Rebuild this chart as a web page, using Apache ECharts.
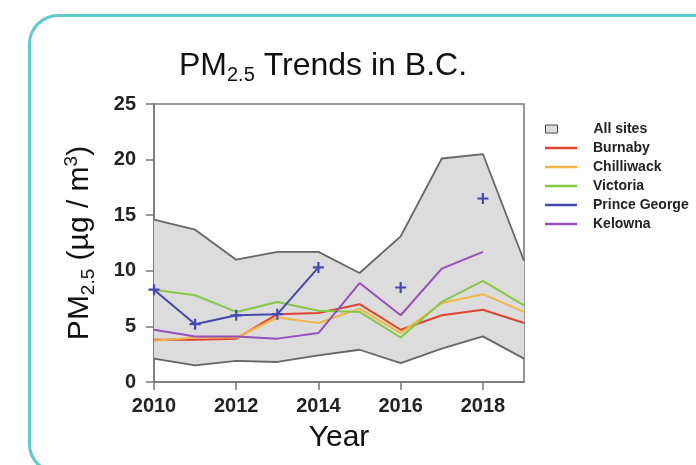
<!DOCTYPE html>
<html>
<head>
<meta charset="utf-8">
<script src="https://cdn.jsdelivr.net/npm/echarts@6/dist/echarts.min.js"></script>
<style>
    body {
        margin: 0;
        background: #fff;
    }
    .frame {
        position: absolute;
        left: 28px;
        top: 14px;
        width: 720px;
        height: 460px;
        box-sizing: border-box;
        border: 3px solid #5ecbcb;
        border-radius: 30px;
    }
    #chartTrend {
        position: absolute;
        left: 0;
        top: 0;
        width: 696px;
        height: 465px;
    }
</style>
</head>
<body>
<div class="frame"></div>
<div id="chartTrend"></div>
<script>
// values (µg/m3)
const years = ["2010", "2011", "2012", "2013", "2014", "2015", "2016", "2017", "2018", "2019"];
const allSitesMin = [2.1, 1.5, 1.9, 1.8, 2.4, 2.9, 1.7, 3.0, 4.1, 2.1];
const allSitesMax = [14.6, 13.7, 11.0, 11.7, 11.7, 9.8, 13.1, 20.1, 20.5, 10.9];
const burnaby = [3.8, 3.8, 3.9, 6.1, 6.2, 7.0, 4.7, 6.0, 6.5, 5.3];
const chilliwack = [3.7, 4.0, 4.0, 5.8, 5.3, 6.6, 4.4, 7.1, 7.9, 6.3];
const victoria = [8.3, 7.8, 6.3, 7.2, 6.4, 6.3, 4.0, 7.2, 9.1, 6.9];
const princeGeorge = [8.3, 5.2, 6.0, 6.1, 10.3, null, 8.5, null, 16.5, null];
const kelowna = [4.7, 4.1, 4.1, 3.9, 4.4, 8.9, 6.0, 10.2, 11.7, null];

const font = "'Liberation Sans', Arial, sans-serif";
const colors = {
    burnaby: "#e0442f",
    chilliwack: "#f3b548",
    victoria: "#86c846",
    princeGeorge: "#4448b0",
    kelowna: "#9350bd"
};

function siteLine(name, values, color) {
    return {
        name: name,
        type: "line",
        data: values,
        showSymbol: false,
        connectNulls: false,
        z: 5,
        itemStyle: { color: color },
        lineStyle: { color: color, width: 2 }
    };
}

const chartTrend = echarts.init(document.getElementById("chartTrend"));

const legendText = {
    fontFamily: font,
    fontSize: 14,
    fontWeight: "bold",
    color: "#222",
    lineHeight: 14
};

const nameRich = {
    m: { fontFamily: font, fontSize: 30, fontWeight: "normal", color: "#111", lineHeight: 36 },
    s: {
        fontFamily: font,
        fontSize: 19,
        fontWeight: "normal",
        color: "#111",
        lineHeight: 20,
        verticalAlign: "bottom"
    },
    p: {
        fontFamily: font,
        fontSize: 19,
        fontWeight: "normal",
        color: "#111",
        lineHeight: 20,
        verticalAlign: "top"
    }
};

chartTrend.setOption({
    animation: false,
    title: {
        text: "{t|PM}{u|2.5}{t| Trends in B.C.}",
        left: 174,
        top: 42,
        textStyle: {
            rich: {
                t: { fontFamily: font, fontSize: 32, fontWeight: "normal", color: "#111", lineHeight: 38 },
                u: {
                    fontFamily: font,
                    fontSize: 20,
                    fontWeight: "normal",
                    color: "#111",
                    lineHeight: 21,
                    verticalAlign: "bottom"
                }
            }
        }
    },
    legend: [
        {
            orient: "vertical",
            left: 540,
            top: 117,
            itemWidth: 12,
            itemHeight: 8,
            textStyle: Object.assign({ padding: [0, 0, 0, 31] }, legendText),
            data: [
                {
                    name: "All sites",
                    icon: "rect",
                    itemStyle: { color: "#dcdcdc", borderColor: "#444", borderWidth: 1 }
                }
            ]
        },
        {
            orient: "vertical",
            left: 540,
            top: 136,
            itemWidth: 32,
            itemHeight: 2.5,
            itemGap: 5,
            icon: "rect",
            textStyle: Object.assign({ padding: [0, 0, 0, 11] }, legendText),
            data: ["Burnaby", "Chilliwack", "Victoria", "Prince George", "Kelowna"]
        }
    ],
    grid: {
        left: 154,
        right: 172,
        top: 104,
        bottom: 83,
        show: true,
        borderColor: "#777",
        borderWidth: 1.5
    },
    xAxis: {
        type: "category",
        boundaryGap: false,
        data: years,
        name: "Year",
        nameLocation: "middle",
        nameGap: 41,
        nameTextStyle: { fontFamily: font, fontSize: 30, color: "#111" },
        axisLine: { lineStyle: { color: "#777", width: 1.5 } },
        axisTick: {
            length: 8,
            interval: 1,
            lineStyle: { color: "#777", width: 1.5 }
        },
        axisLabel: {
            interval: 1,
            margin: 14,
            fontFamily: font,
            fontSize: 20,
            fontWeight: "bold",
            color: "#222"
        },
        splitLine: { show: false }
    },
    yAxis: {
        type: "value",
        min: 0,
        max: 25,
        interval: 5,
        name: "{m|PM}{s|2.5}{m| (µg / m}{p|3}{m|)}",
        nameLocation: "middle",
        nameGap: 56,
        nameTextStyle: { rich: nameRich },
        axisLine: { show: true, lineStyle: { color: "#777", width: 1.5 } },
        axisTick: { show: true, length: 8, lineStyle: { color: "#777", width: 1.5 } },
        axisLabel: {
            margin: 18,
            fontFamily: font,
            fontSize: 20,
            fontWeight: "bold",
            color: "#222"
        },
        splitLine: { show: false }
    },
    series: [
        {
            name: "All sites",
            type: "line",
            stack: "env",
            data: allSitesMin,
            showSymbol: false,
            z: 2,
            itemStyle: { color: "#dcdcdc" },
            lineStyle: { color: "#666", width: 1.8 }
        },
        {
            name: "All sites",
            type: "line",
            stack: "env",
            data: allSitesMax.map((v, i) => v - allSitesMin[i]),
            showSymbol: false,
            z: 2,
            itemStyle: { color: "#dcdcdc" },
            lineStyle: { color: "#666", width: 1.8 },
            areaStyle: { color: "#dcdcdc", opacity: 1 }
        },
        siteLine("Burnaby", burnaby, colors.burnaby),
        siteLine("Chilliwack", chilliwack, colors.chilliwack),
        siteLine("Victoria", victoria, colors.victoria),
        Object.assign(siteLine("Prince George", princeGeorge, colors.princeGeorge), {
            showSymbol: true,
            showAllSymbol: true,
            symbol: "path://M4,0H6V4H10V6H6V10H4V6H0V4H4Z",
            symbolSize: 11,
            z: 6
        }),
        siteLine("Kelowna", kelowna, colors.kelowna)
    ]
});
</script>
</body>
</html>
